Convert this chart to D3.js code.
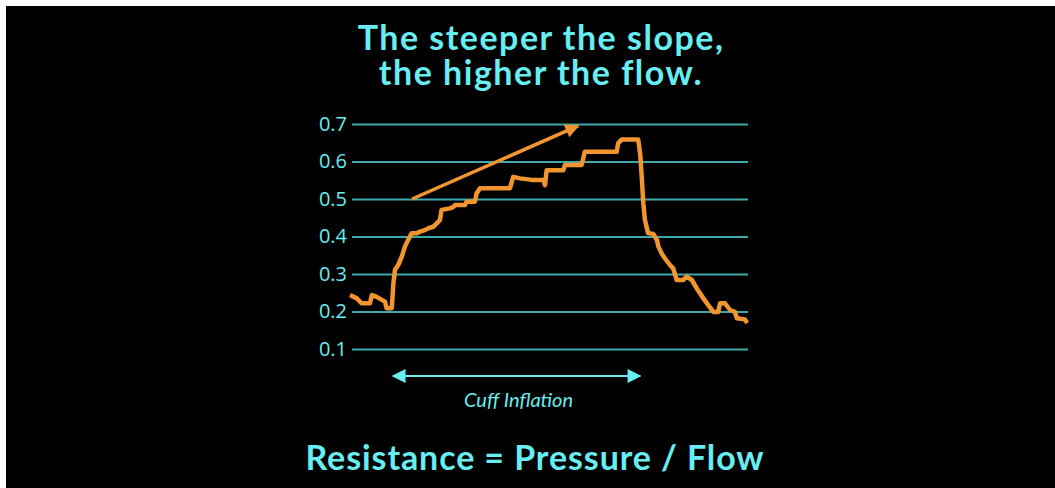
<!DOCTYPE html>
<html>
<head>
<meta charset="utf-8">
<script src="https://cdnjs.cloudflare.com/ajax/libs/d3/7.8.5/d3.min.js"></script>
<style>
  body { margin: 0; background: #fff; }
  svg { display: block; }
</style>
</head>
<body>
<script>
// flow trace (time in arbitrary units, flow)
var times = [0, 1.7, 2.9, 5.0, 5.5, 6.7, 8.0, 8.8, 9.2, 10.5, 10.9, 11.3, 12.1, 13.0, 13.8, 14.6,
	15.5, 16.8, 17.6, 18.8, 19.7, 20.9, 21.8, 22.6, 23.0, 25.1, 26.0, 26.4, 28.9, 29.3, 31.4, 31.8,
	32.7, 40.2, 41.0, 42.7, 45.7, 48.6, 49.0, 49.4, 53.6, 54.0, 58.2, 59.0, 67.0, 67.4, 68.3, 72.4,
	72.9, 73.3, 73.7, 74.1, 74.9, 76.2, 77.1, 77.5, 78.3, 79.1, 80.4, 81.2, 82.1, 83.7, 84.6, 85.9,
	87.1, 88.8, 90.0, 91.3, 92.5, 93.0, 94.2, 95.5, 96.7, 97.2, 99.2, 99.8];
var flows = [0.244, 0.235, 0.222, 0.222, 0.244, 0.239, 0.231, 0.226, 0.209, 0.209, 0.275, 0.311, 0.324, 0.346, 0.373, 0.391,
	0.409, 0.409, 0.413, 0.417, 0.422, 0.426, 0.435, 0.444, 0.471, 0.475, 0.479, 0.484, 0.484, 0.493, 0.493, 0.515,
	0.529, 0.529, 0.559, 0.555, 0.551, 0.551, 0.537, 0.577, 0.577, 0.591, 0.591, 0.626, 0.626, 0.649, 0.659, 0.659,
	0.622, 0.559, 0.489, 0.444, 0.409, 0.407, 0.391, 0.373, 0.355, 0.342, 0.324, 0.315, 0.284, 0.284, 0.293, 0.284,
	0.262, 0.235, 0.217, 0.199, 0.199, 0.222, 0.222, 0.204, 0.199, 0.182, 0.179, 0.169];
var yTicks = [0.1, 0.2, 0.3, 0.4, 0.5, 0.6, 0.7];
var slopeArrow = [[15.6, 0.5], [57.3, 0.695]];
var cuffStart = 10.8, cuffEnd = 72.9;
var titleLines = ["The steeper the slope,", "the higher the flow."];
var cuffLabel = "Cuff Inflation";
var footer = "Resistance = Pressure / Flow";

var width = 1055, height = 488;
var cyan = "#66eef2", grid = "#3fa8aa", orange = "#f2952f";
var titleFont = "'Comic Sans MS', Lato, 'Open Sans', sans-serif";

var svg = d3.select("body").append("svg")
	.attr("width", width)
	.attr("height", height);

svg.append("rect")
	.attr("x", 6).attr("y", 6)
	.attr("width", width - 6).attr("height", height - 6)
	.attr("fill", "#000");

var defs = svg.append("defs");
function marker(id, color, w, h) {
	defs.append("marker")
		.attr("id", id)
		.attr("viewBox", "0 0 10 10")
		.attr("refX", 9).attr("refY", 5)
		.attr("markerUnits", "userSpaceOnUse")
		.attr("markerWidth", w).attr("markerHeight", h)
		.attr("orient", "auto-start-reverse")
		.append("path")
		.attr("d", "M0,0 L10,5 L0,10 Z")
		.attr("fill", color);
}
marker("arrOrange", orange, 20, 14);
marker("arrCyan", cyan, 16, 14);

var xScale = d3.scaleLinear().domain([0, 100]).range([350, 748]);
var yScale = d3.scaleLinear().domain([0, 0.7]).range([386.5, 124]);

// gridlines + tick labels
var axis = svg.append("g")
	.attr("transform", "translate(352,0)")
	.call(d3.axisLeft(yScale)
		.tickValues(yTicks)
		.tickFormat(d3.format(".1f"))
		.tickSize(-(748 - 352))
		.tickPadding(5));
axis.select(".domain").remove();
axis.selectAll(".tick line")
	.attr("stroke", grid)
	.attr("stroke-width", 2);
axis.selectAll(".tick text")
	.attr("fill", cyan)
	.attr("font-family", "'Open Sans', sans-serif")
	.attr("font-size", 20);

// flow trace
var pts = times.map(function(t, i) { return [t, flows[i]]; });
var line = d3.line()
	.x(function(d) { return xScale(d[0]); })
	.y(function(d) { return yScale(d[1]); });

svg.append("path")
	.datum(pts)
	.attr("d", line)
	.attr("fill", "none")
	.attr("stroke", orange)
	.attr("stroke-width", 4.5)
	.attr("stroke-linejoin", "round");

// slope arrow
svg.append("line")
	.attr("x1", xScale(slopeArrow[0][0])).attr("y1", yScale(slopeArrow[0][1]))
	.attr("x2", xScale(slopeArrow[1][0])).attr("y2", yScale(slopeArrow[1][1]))
	.attr("stroke", orange)
	.attr("stroke-width", 3.5)
	.attr("marker-end", "url(#arrOrange)");

// cuff inflation arrow
var cuffY = 376;
svg.append("line")
	.attr("x1", xScale(cuffStart)).attr("y1", cuffY)
	.attr("x2", xScale(cuffEnd)).attr("y2", cuffY)
	.attr("stroke", cyan)
	.attr("stroke-width", 2)
	.attr("marker-start", "url(#arrCyan)")
	.attr("marker-end", "url(#arrCyan)");

svg.append("text")
	.attr("x", (xScale(cuffStart) + xScale(cuffEnd)) / 2 + 2)
	.attr("y", 407)
	.attr("text-anchor", "middle")
	.attr("fill", cyan)
	.attr("font-family", "Lato, sans-serif")
	.attr("font-style", "italic")
	.attr("font-size", 20)
	.text(cuffLabel);

// title (one text block, two lines)
var title = svg.append("text")
	.attr("text-anchor", "middle")
	.attr("fill", cyan)
	.attr("font-family", titleFont)
	.attr("font-weight", "bold")
	.attr("font-size", 34)
	.attr("letter-spacing", 1.5);
title.selectAll("tspan")
	.data(titleLines)
	.enter().append("tspan")
	.attr("x", 541)
	.attr("y", function(d, i) { return 50 + i * 35; })
	.text(function(d) { return d; });

svg.append("text")
	.attr("x", 535)
	.attr("y", 470)
	.attr("text-anchor", "middle")
	.attr("fill", cyan)
	.attr("font-family", titleFont)
	.attr("font-weight", "bold")
	.attr("font-size", 34)
	.attr("letter-spacing", 0.9)
	.text(footer);
</script>
</body>
</html>
